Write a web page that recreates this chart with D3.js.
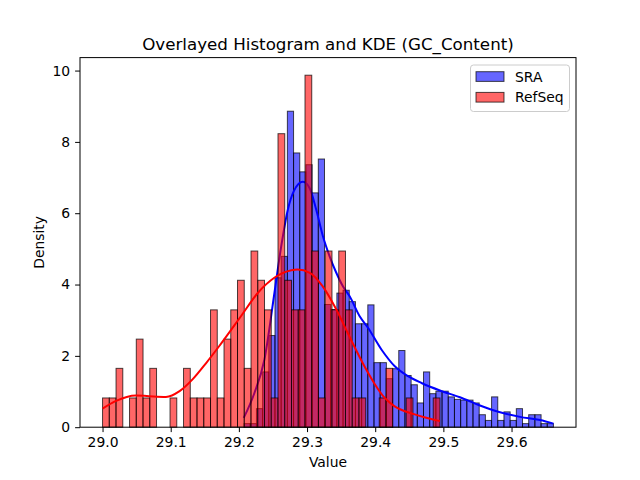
<!DOCTYPE html>
<html>
<head>
<meta charset="utf-8">
<script src="https://cdn.jsdelivr.net/npm/d3@7"></script>
<style>
  body { margin: 0; background: #fff; }
  text { font-family: "DejaVu Sans", sans-serif; fill: #000; }
</style>
</head>
<body>
<div id="chart"></div>
<script>
// bin ranges (first edge, last edge) for each series, 50 bins each
var sraRange = [29.2076, 29.6615];
var refseqRange = [29.0, 29.495];

// histogram densities
var sraDensity = [0.10, 0.10, 0.52, 1.55, 2.57, 4.19, 4.79, 8.86, 7.69, 7.16,
                  7.36, 6.57, 7.52, 3.44, 3.30, 3.76, 3.84, 3.52, 2.90, 2.90,
                  3.43, 1.81, 1.81, 1.36, 1.64, 2.15, 1.45, 1.19, 0.68, 1.55,
                  0.94, 1.01, 1.01, 0.85, 0.78, 0.76, 0.76, 0.68, 0.35, 0.19,
                  0.85, 0.19, 0.43, 0.19, 0.52, 0.10, 0.35, 0.35, 0.10, 0.10];
var refseqDensity = [0.82, 0.82, 1.65, 0, 0.82, 2.47, 0.82, 1.65, 0, 0,
                     0.82, 0, 1.65, 0.82, 0.82, 0.82, 3.29, 0.82, 2.47, 3.29,
                     4.12, 1.65, 4.94, 4.12, 3.29, 0.82, 8.23, 4.12, 3.29, 3.29,
                     9.87, 4.94, 0.82, 4.94, 3.29, 4.94, 3.29, 0.82, 0.82, 0,
                     0, 0.82, 1.65, 0, 0, 0.82, 0, 0, 0, 0.82];

// KDE curves, sampled points [value, density]
var sraKde = [[29.2071, 0.26], [29.2228, 0.96], [29.2375, 1.90], [29.2522, 3.77],
              [29.2621, 5.07], [29.2718, 6.10], [29.2806, 6.62], [29.2938, 6.88],
              [29.3037, 6.71], [29.3135, 6.10], [29.3232, 5.36], [29.3331, 4.79],
              [29.3429, 4.33], [29.3526, 3.95], [29.3625, 3.67], [29.3772, 3.11],
              [29.3894, 2.79], [29.4091, 2.18], [29.4287, 1.71], [29.4482, 1.43],
              [29.4679, 1.24], [29.4949, 1.03], [29.5243, 0.84], [29.5537, 0.61],
              [29.5831, 0.42], [29.6125, 0.29], [29.6419, 0.20], [29.6615, 0.10]];
var refseqKde = [[29.000, 0.52], [29.019, 0.73], [29.049, 0.89], [29.068, 0.87],
                 [29.093, 0.85], [29.113, 1.01], [29.132, 1.34], [29.152, 1.80],
                 [29.171, 2.27], [29.203, 3.11], [29.228, 3.77], [29.252, 4.19],
                 [29.277, 4.40], [29.286, 4.42], [29.304, 4.33], [29.323, 3.95],
                 [29.343, 3.30], [29.362, 2.55], [29.385, 1.68], [29.399, 1.22],
                 [29.414, 0.82], [29.428, 0.59], [29.458, 0.36], [29.495, 0.17]];

var xTicks = [29.0, 29.1, 29.2, 29.3, 29.4, 29.5, 29.6];
var yTicks = [0, 2, 4, 6, 8, 10];
var seriesNames = ["SRA", "RefSeq"];
var seriesColors = ["blue", "red"];

var width = 640, height = 480;
var margin = {left: 80, right: 64, top: 57.6, bottom: 52.8};

var svg = d3.select("#chart").append("svg")
  .attr("width", width)
  .attr("height", height);

var xMin = refseqRange[0], xMax = sraRange[1];
var pad = (xMax - xMin) * 0.05;
var x = d3.scaleLinear()
  .domain([xMin - pad, xMax + pad])
  .range([margin.left, width - margin.right]);
var yMax = d3.max(refseqDensity.concat(sraDensity)) * 1.05;
var y = d3.scaleLinear()
  .domain([0, yMax])
  .range([height - margin.bottom, margin.top]);

function bins(range, values) {
  var w = (range[1] - range[0]) / values.length;
  return values.map(function (v, i) {
    return {x0: range[0] + i * w, x1: range[0] + (i + 1) * w, v: v};
  });
}

var line = d3.line()
  .x(function (d) { return x(d[0]); })
  .y(function (d) { return y(d[1]); })
  .curve(d3.curveMonotoneX);

function drawSeries(range, values, kde, color) {
  svg.append("g")
    .selectAll("rect")
    .data(bins(range, values).filter(function (d) { return d.v > 0; }))
    .join("rect")
    .attr("x", function (d) { return x(d.x0); })
    .attr("width", function (d) { return x(d.x1) - x(d.x0); })
    .attr("y", function (d) { return y(d.v); })
    .attr("height", function (d) { return y(0) - y(d.v); })
    .attr("fill", color)
    .attr("fill-opacity", 0.6)
    .attr("stroke", "#000")
    .attr("stroke-opacity", 0.7)
    .attr("stroke-width", 1);

  svg.append("path")
    .datum(kde)
    .attr("d", line)
    .attr("fill", "none")
    .attr("stroke", color)
    .attr("stroke-width", 2);
}

drawSeries(sraRange, sraDensity, sraKde, seriesColors[0]);
drawSeries(refseqRange, refseqDensity, refseqKde, seriesColors[1]);

// axes
var xAxis = svg.append("g")
  .attr("transform", `translate(0,${height - margin.bottom})`)
  .call(d3.axisBottom(x).tickValues(xTicks).tickFormat(d3.format(".1f"))
    .tickSize(4.9).tickPadding(4.9));
var yAxis = svg.append("g")
  .attr("transform", `translate(${margin.left},0)`)
  .call(d3.axisLeft(y).tickValues(yTicks).tickFormat(d3.format("d"))
    .tickSize(4.9).tickPadding(4.9));
[xAxis, yAxis].forEach(function (a) {
  a.select(".domain").remove();
  a.selectAll("text").attr("font-size", "13.9px").attr("font-family", "DejaVu Sans");
  a.selectAll("line").attr("stroke", "#000").attr("stroke-width", 1);
});

svg.append("rect")
  .attr("x", margin.left)
  .attr("y", margin.top)
  .attr("width", width - margin.left - margin.right)
  .attr("height", height - margin.top - margin.bottom)
  .attr("fill", "none")
  .attr("stroke", "#000")
  .attr("stroke-width", 1);

// labels
svg.append("text")
  .attr("x", (margin.left + width - margin.right) / 2)
  .attr("y", 50)
  .attr("text-anchor", "middle")
  .attr("font-size", "16.7px")
  .text("Overlayed Histogram and KDE (GC_Content)");
svg.append("text")
  .attr("x", (margin.left + width - margin.right) / 2)
  .attr("y", 467)
  .attr("text-anchor", "middle")
  .attr("font-size", "13.9px")
  .text("Value");
svg.append("text")
  .attr("transform", `translate(44,${(margin.top + height - margin.bottom) / 2}) rotate(-90)`)
  .attr("text-anchor", "middle")
  .attr("font-size", "13.9px")
  .text("Density");

// legend
var legend = svg.append("g");
legend.append("rect")
  .attr("x", 470.5).attr("y", 65)
  .attr("width", 99).attr("height", 46.5)
  .attr("rx", 3)
  .attr("fill", "#fff").attr("fill-opacity", 0.8)
  .attr("stroke", "#ccc").attr("stroke-width", 1);
seriesNames.forEach(function (name, i) {
  var ty = 71.7 + i * 20.7;
  legend.append("rect")
    .attr("x", 476).attr("y", ty)
    .attr("width", 28).attr("height", 9.7)
    .attr("fill", seriesColors[i]).attr("fill-opacity", 0.6)
    .attr("stroke", "#000").attr("stroke-opacity", 0.7);
  legend.append("text")
    .attr("x", 515).attr("y", ty + 10)
    .attr("font-size", "13.9px")
    .text(name);
});
</script>
</body>
</html>
